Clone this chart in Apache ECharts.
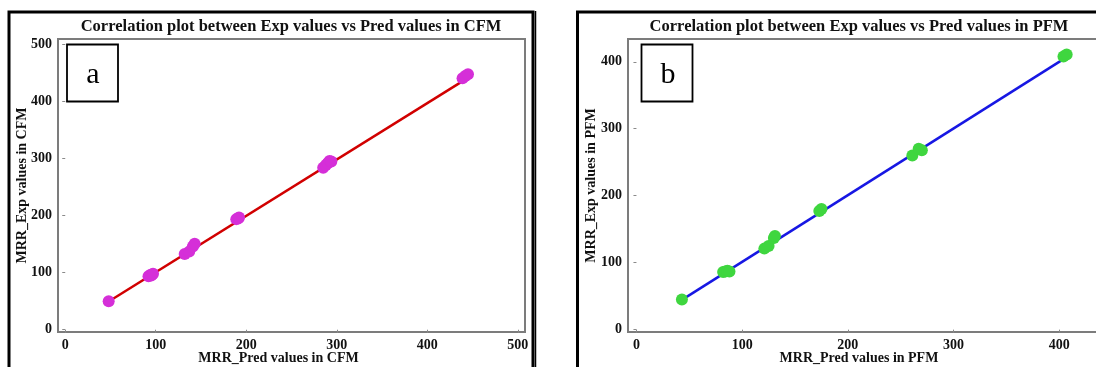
<!DOCTYPE html>
<html>
<head>
<meta charset="utf-8">
<title>Correlation plots: Exp vs Pred MRR (CFM / PFM)</title>
<script src="https://cdn.jsdelivr.net/npm/echarts@6/dist/echarts.min.js"></script>
<style>
  html, body { margin: 0; padding: 0; background: #fff; overflow: hidden; }
  #chart { width: 1096px; height: 367px; }
</style>
</head>
<body>
<div id="chart"></div>
<script>
// CFM: predicted vs experimental MRR
const cfmPred = [48, 92, 94, 95, 96, 97, 132, 137, 141, 143, 189, 191, 192, 285, 288, 290, 292, 294, 439, 442, 445];
const cfmExp  = [50, 94, 96, 95, 97, 98, 133, 137, 146, 151, 194, 195, 197, 284, 289, 292, 296, 295, 441, 445, 448];
// fitted line endpoints for CFM
const cfmFitX = [48, 440];
const cfmFitY = [49.5, 437];

// PFM: predicted vs experimental MRR
const pfmPred = [43, 82, 84, 86, 88, 121, 125, 130, 131, 173, 175, 261, 267, 270, 404, 407];
const pfmExp  = [45, 86, 87, 88, 87, 121, 125, 137, 140, 177, 180, 260, 270, 268, 408, 411];
// fitted line endpoints for PFM
const pfmFitX = [43, 404];
const pfmFitY = [44.5, 404];

const cfmTicksX = [0, 100, 200, 300, 400, 500];
const cfmTicksY = [0, 100, 200, 300, 400, 500];
const pfmTicksX = [0, 100, 200, 300, 400];
const pfmTicksY = [0, 100, 200, 300, 400];

const panelTitles = [
  'Correlation plot between Exp values vs Pred values in CFM',
  'Correlation plot between Exp values vs Pred values in PFM'
];
const xNames = ['MRR_Pred values in CFM', 'MRR_Pred values in PFM'];
const yNames = ['MRR_Exp values in CFM', 'MRR_Exp values in PFM'];
const panelTags = ['a', 'b'];

const SERIF = '"Times New Roman", "Liberation Serif", "DejaVu Serif", serif';

function pairs(xs, ys) { return xs.map((x, i) => [x, ys[i]]); }

function axisCommon(ticks) {
  return {
    type: 'value',
    axisLine: { show: false },
    splitLine: { show: false },
    axisTick: { show: true, inside: false, length: 3, customValues: ticks,
                lineStyle: { color: '#8a8a8a', width: 1 } },
    axisLabel: { customValues: ticks, color: '#111', fontFamily: SERIF,
                 fontWeight: 'bold', fontSize: 14, margin: 6 },
    nameLocation: 'middle',
    nameMoveOverlap: false,
    nameTextStyle: { color: '#111', fontFamily: SERIF, fontWeight: 'bold', fontSize: 14 }
  };
}

const chart = echarts.init(document.getElementById('chart'), null, { renderer: 'canvas' });

chart.setOption({
  animation: false,
  backgroundColor: '#fff',
  title: [
    { text: panelTitles[0], left: 286, top: 13, textAlign: 'center',
      textStyle: { fontFamily: SERIF, fontWeight: 'bold', fontSize: 16.5, color: '#111' } },
    { text: panelTitles[1], left: 854, top: 13, textAlign: 'center',
      textStyle: { fontFamily: SERIF, fontWeight: 'bold', fontSize: 16.5, color: '#111' } }
  ],
  grid: [
    { left: 58, top: 39, right: 571, bottom: 35, show: true, borderColor: '#7c7c7c',
      borderWidth: 2, backgroundColor: '#fff', containLabel: false, outerBoundsMode: 'none' },
    { left: 628, top: 39, width: 482, bottom: 35, show: true, borderColor: '#7c7c7c',
      borderWidth: 2, backgroundColor: '#fff', containLabel: false, outerBoundsMode: 'none' }
  ],
  xAxis: [
    Object.assign(axisCommon(cfmTicksX), { gridIndex: 0, min: -8, max: 508,
      name: xNames[0], nameGap: 19,
      nameTextStyle: { color: '#111', fontFamily: SERIF, fontWeight: 'bold', fontSize: 14,
                       padding: [0, 26, 0, 0] } }),
    Object.assign(axisCommon(pfmTicksX), { gridIndex: 1, min: -8, max: 448,
      name: xNames[1], nameGap: 19,
      nameTextStyle: { color: '#111', fontFamily: SERIF, fontWeight: 'bold', fontSize: 14,
                       padding: [0, 20, 0, 0] } })
  ],
  yAxis: [
    Object.assign(axisCommon(cfmTicksY), { gridIndex: 0, min: -4, max: 510,
      name: yNames[0], nameGap: 29 }),
    Object.assign(axisCommon(pfmTicksY), { gridIndex: 1, min: -3.5, max: 434,
      name: yNames[1], nameGap: 30 })
  ],
  series: [
    { type: 'line', xAxisIndex: 0, yAxisIndex: 0, data: pairs(cfmFitX, cfmFitY),
      symbol: 'none', lineStyle: { color: '#d10000', width: 2.5 }, z: 2 },
    { type: 'scatter', xAxisIndex: 0, yAxisIndex: 0, data: pairs(cfmPred, cfmExp),
      symbolSize: 12, itemStyle: { color: '#d52fd8', opacity: 1 }, z: 3 },
    { type: 'line', xAxisIndex: 1, yAxisIndex: 1, data: pairs(pfmFitX, pfmFitY),
      symbol: 'none', lineStyle: { color: '#1717e3', width: 2.5 }, z: 2 },
    { type: 'scatter', xAxisIndex: 1, yAxisIndex: 1, data: pairs(pfmPred, pfmExp),
      symbolSize: 12, itemStyle: { color: '#3fd63f', opacity: 1 }, z: 3 }
  ],
  graphic: [
    // outer frames of the two panels
    { type: 'rect', shape: { x: 9, y: 12, width: 524, height: 420 },
      style: { fill: 'none', stroke: '#000', lineWidth: 3 }, z: 100 },
    { type: 'line', shape: { x1: 535.5, y1: 11, x2: 535.5, y2: 367 },
      style: { stroke: '#000', lineWidth: 1.5 }, z: 100 },
    { type: 'rect', shape: { x: 577.5, y: 12, width: 600, height: 420 },
      style: { fill: 'none', stroke: '#000', lineWidth: 3 }, z: 100 },
    // panel tags
    { type: 'rect', shape: { x: 67, y: 44.5, width: 51, height: 57 },
      style: { fill: '#fff', stroke: '#000', lineWidth: 1.8 }, z: 100 },
    { type: 'text', x: 93, y: 75, style: { text: panelTags[0], font: '30px ' + SERIF,
      fill: '#000', align: 'center', verticalAlign: 'middle' }, z: 101 },
    { type: 'rect', shape: { x: 641.5, y: 44.5, width: 51, height: 57 },
      style: { fill: '#fff', stroke: '#000', lineWidth: 1.8 }, z: 100 },
    { type: 'text', x: 668, y: 75, style: { text: panelTags[1], font: '30px ' + SERIF,
      fill: '#000', align: 'center', verticalAlign: 'middle' }, z: 101 }
  ]
});
</script>
</body>
</html>
